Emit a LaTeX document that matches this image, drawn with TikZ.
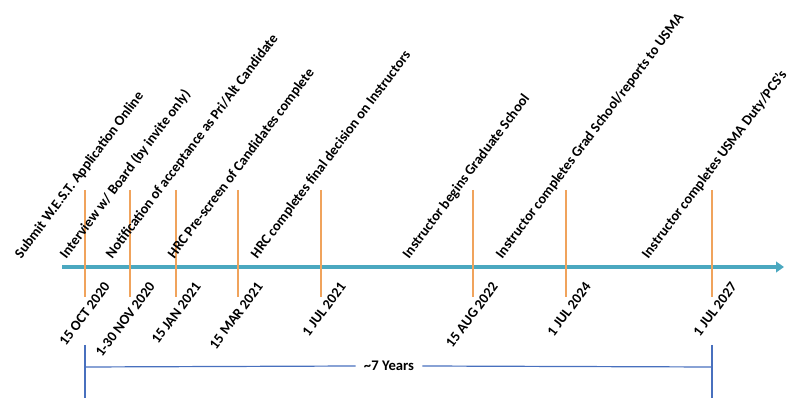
\documentclass[tikz,border=0pt]{standalone}
\usepackage{fontspec}
\setmainfont{Carlito}
\usetikzlibrary{arrows.meta,positioning}

\definecolor{axisteal}{RGB}{75,168,192}
\definecolor{tickorange}{RGB}{240,163,92}
\definecolor{spanblue}{RGB}{72,112,190}

\tikzset{
  axisline/.style={axisteal, line width=3pt, -{Triangle[length=6pt,width=8pt]}},
  tickline/.style={tickorange, line width=1.6pt},
  spanline/.style={spanblue, line width=0.9pt},
  event/.style={rotate=53, anchor=west, inner sep=0pt, font=\fontsize{10.7}{12}\selectfont\bfseries},
  datelbl/.style={rotate=53, anchor=east, inner sep=0pt, font=\fontsize{10.7}{12}\selectfont\bfseries},
  spantext/.style={inner xsep=6pt, font=\fontsize{11}{13}\selectfont\bfseries}
}

\begin{document}
\begin{tikzpicture}[x=0.75pt,y=-0.75pt]
\useasboundingbox (0,0) rectangle (800,398);

% Draw time axis
\coordinate (axstart) at (62,267);
\coordinate (axend) at (784,267);
\draw[axisline] (axstart) -- (axend);

% Draw milestones with events and dates
\foreach \x/\event/\date [count=\i] in {
    85/{Submit W.E.S.T. Application Online}/{15 OCT 2020},
    130/{Interview w/ Board (by invite only)}/{1-30 NOV 2020},
    176/{Notification of acceptance as Pri/Alt Candidate}/{15 JAN 2021},
    238/{HRC Pre-screen of Candidates complete}/{15 MAR 2021},
    321/{HRC completes final decision on Instructors}/{1 JUL 2021},
    473/{Instructor begins Graduate School}/{15 AUG 2022},
    566/{Instructor completes Grad School/reports to USMA}/{1 JUL 2024},
    712/{Instructor completes USMA Duty/PCS's}/{1 JUL 2027}} {
  \coordinate (top\i) at (\x,190);
  \coordinate (bot\i) at (\x,297);
  \draw[tickline] (top\i) -- (bot\i);
  \node[event] (ev\i) at (\x-67,257) {\event};
  \node[datelbl] (dt\i) at (\x+22,284) {\date};
}

% Draw span bracket
\coordinate (lstop) at (85,345);
\coordinate (lsbot) at (85,398);
\coordinate (rstop) at (712,345);
\coordinate (rsbot) at (712,398);
\coordinate (lsmid) at (85,367);
\coordinate (rsmid) at (712,367);
\node[spantext] (span) at (389,366) {\textasciitilde7 Years};
\draw[spanline] (lstop) -- (lsbot);
\draw[spanline] (rstop) -- (rsbot);
\draw[spanline] (lsmid) -- (span.west);
\draw[spanline] (span.east) -- (rsmid);
\end{tikzpicture}
\end{document}
